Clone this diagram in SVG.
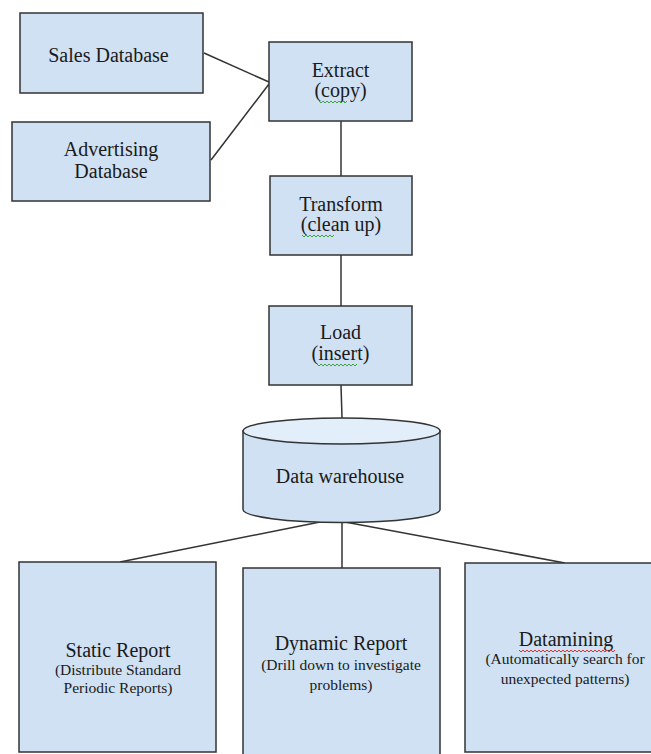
<svg xmlns="http://www.w3.org/2000/svg" width="651" height="754" viewBox="0 0 651 754">
<style>
.box{fill:#cfe1f3;stroke:#333;stroke-width:1.5}
.cyl{fill:#cfe1f3;stroke:#333;stroke-width:1.5}
.cyltop{fill:#e2eef9;stroke:#333;stroke-width:1.5}
.conn{stroke:#333;stroke-width:1.5;fill:none}
text{font-family:'Liberation Serif','DejaVu Serif','Times New Roman',serif;fill:#1a1a1a;text-anchor:middle}
.t{font-size:20px}
.s{font-size:15.5px}
.sqg{stroke:#3aa63a;stroke-width:1;fill:none}
.sqr{stroke:#e03030;stroke-width:1;fill:none}
</style>
<rect width="651" height="754" fill="#ffffff"/>
<g id="connectors">
<line class="conn" x1="204" y1="53" x2="269" y2="82"/>
<line class="conn" x1="211" y1="160" x2="269" y2="84"/>
<line class="conn" x1="341" y1="121" x2="341" y2="176"/>
<line class="conn" x1="341" y1="255" x2="341" y2="306"/>
<line class="conn" x1="341" y1="385" x2="342" y2="418"/>
<line class="conn" x1="320" y1="522" x2="120" y2="562"/>
<line class="conn" x1="342" y1="522" x2="342" y2="568"/>
<line class="conn" x1="345" y1="522" x2="565" y2="563"/>
</g>
<g id="sales">
<rect class="box" x="20" y="13" width="183" height="80"/>
<text class="t" x="108.5" y="62" font-family="Liberation Serif, serif">Sales Database</text>
</g>
<g id="advertising">
<rect class="box" x="12" y="122" width="198" height="79"/>
<text class="t" x="111" y="156" font-family="Liberation Serif, serif">Advertising</text>
<text class="t" x="111" y="178" font-family="Liberation Serif, serif">Database</text>
</g>
<g id="extract">
<rect class="box" x="269" y="42" width="143" height="79"/>
<text class="t" x="340.5" y="77" font-family="Liberation Serif, serif">Extract</text>
<text class="t" x="340.5" y="97" font-family="Liberation Serif, serif">(copy)</text>
<path class="sqg" d="M319 101 l2 2 l2 -2 l2 2 l2 -2 l2 2 l2 -2 l2 2 l2 -2 l2 2 l2 -2 l2 2 l2 -2 l2 2 l2 -2"/>
</g>
<g id="transform">
<rect class="box" x="270" y="176" width="142" height="79"/>
<text class="t" x="341" y="211" font-family="Liberation Serif, serif">Transform</text>
<text class="t" x="341" y="231" font-family="Liberation Serif, serif">(clean up)</text>
<path class="sqg" d="M302 235 l2 2 l2 -2 l2 2 l2 -2 l2 2 l2 -2 l2 2 l2 -2 l2 2 l2 -2 l2 2 l2 -2 l2 2 l2 -2 l2 2 l2 -2"/>
</g>
<g id="load">
<rect class="box" x="269" y="306" width="143" height="79"/>
<text class="t" x="340.5" y="339" font-family="Liberation Serif, serif">Load</text>
<text class="t" x="340.5" y="360" font-family="Liberation Serif, serif">(insert)</text>
<path class="sqg" d="M317 364 l2 2 l2 -2 l2 2 l2 -2 l2 2 l2 -2 l2 2 l2 -2 l2 2 l2 -2 l2 2 l2 -2 l2 2 l2 -2 l2 2 l2 -2 l2 2 l2 -2 l2 2 l2 -2"/>
</g>
<g id="warehouse">
<path class="cyl" d="M243 431 L243 509.5 A98.5 13 0 0 0 440 509.5 L440 431 Z"/>
<ellipse class="cyltop" cx="341.5" cy="431" rx="98.5" ry="13"/>
<text class="t" x="340" y="483" font-family="Liberation Serif, serif">Data warehouse</text>
</g>
<g id="static">
<rect class="box" x="19" y="562" width="197" height="190"/>
<text class="t" x="118" y="657" font-family="Liberation Serif, serif">Static Report</text>
<text class="s" x="118" y="675" font-family="Liberation Serif, serif">(Distribute Standard</text>
<text class="s" x="118" y="693" font-family="Liberation Serif, serif">Periodic Reports)</text>
</g>
<g id="dynamic">
<rect class="box" x="243" y="568" width="197" height="192"/>
<text class="t" x="341" y="650" font-family="Liberation Serif, serif">Dynamic Report</text>
<text class="s" x="341" y="670" font-family="Liberation Serif, serif">(Drill down to investigate</text>
<text class="s" x="341" y="690" font-family="Liberation Serif, serif">problems)</text>
</g>
<g id="datamining">
<rect class="box" x="465" y="563" width="200" height="189"/>
<text class="t" x="566" y="646" font-family="Liberation Serif, serif">Datamining</text>
<path class="sqr" d="M519 650 l2 2 l2 -2 l2 2 l2 -2 l2 2 l2 -2 l2 2 l2 -2 l2 2 l2 -2 l2 2 l2 -2 l2 2 l2 -2 l2 2 l2 -2 l2 2 l2 -2 l2 2 l2 -2 l2 2 l2 -2 l2 2 l2 -2 l2 2 l2 -2 l2 2 l2 -2 l2 2 l2 -2 l2 2 l2 -2 l2 2 l2 -2 l2 2 l2 -2 l2 2 l2 -2 l2 2 l2 -2 l2 2 l2 -2 l2 2 l2 -2 l2 2 l2 -2 l2 2 l2 -2"/>
<text class="s" x="565" y="664" font-family="Liberation Serif, serif">(Automatically search for</text>
<text class="s" x="565" y="684" font-family="Liberation Serif, serif">unexpected patterns)</text>
</g>
</svg>
